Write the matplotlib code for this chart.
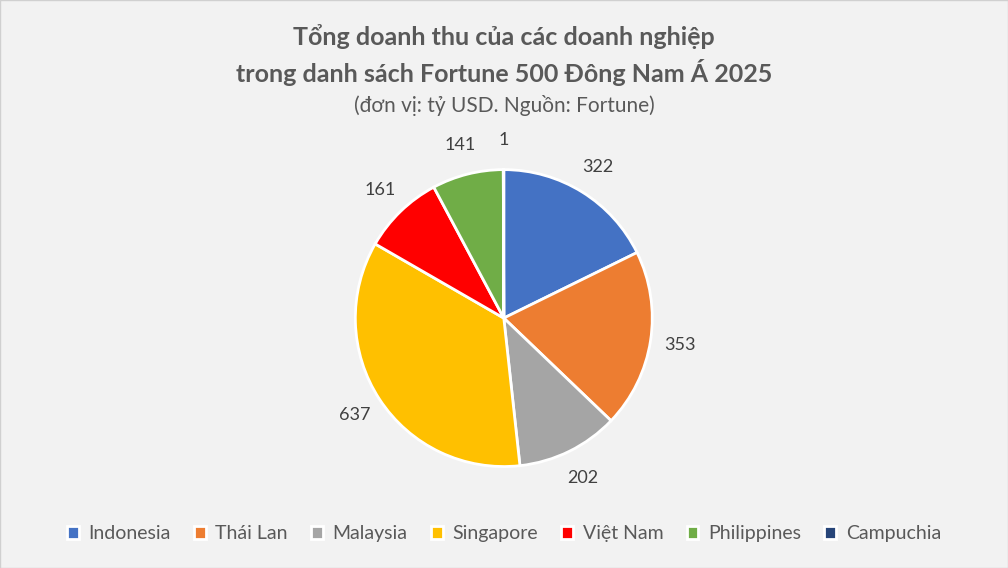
import matplotlib.pyplot as plt
from matplotlib.patches import Rectangle

countries = ['Indonesia', 'Thái Lan', 'Malaysia', 'Singapore', 'Việt Nam', 'Philippines', 'Campuchia']
revenue = [322, 353, 202, 637, 161, 141, 1]
colors = ['#4472C4', '#ED7D31', '#A5A5A5', '#FFC000', '#FF0000', '#70AD47', '#264478']

plt.rcParams['font.family'] = ['Lato', 'DejaVu Sans']

fig = plt.figure(figsize=(10.08, 5.68), dpi=100, facecolor='#f2f2f2')
fig.patches.append(Rectangle((0, 0), 1, 1, transform=fig.transFigure, fill=False,
                             edgecolor='#d0d0d0', lw=1))

ax = fig.add_axes([0.351, 0.176, 0.2976, 0.528])
ax.set_facecolor('#f2f2f2')
wedges, texts = ax.pie(revenue, colors=colors, startangle=90, counterclock=False,
                       labels=[str(v) for v in revenue], labeldistance=1.2,
                       wedgeprops=dict(edgecolor='white', linewidth=2),
                       textprops=dict(fontsize=13, color='#404040', clip_on=False))
for t in texts:
    t.set_ha('center')
ax.set_xlim(-1.01, 1.01)
ax.set_ylim(-1.01, 1.01)
ax.set_aspect('equal')
ax.axis('off')

fig.text(0.5, 0.935, 'Tổng doanh thu của các doanh nghiệp', ha='center', va='center',
         fontsize=18, fontweight='bold', color='#595959')
fig.text(0.5, 0.873, 'trong danh sách Fortune 500 Đông Nam Á 2025', ha='center', va='center',
         fontsize=18, fontweight='bold', color='#595959')
fig.text(0.5, 0.815, '(đơn vị: tỷ USD. Nguồn: Fortune)', ha='center', va='center',
         fontsize=15, color='#595959')

fig.legend(wedges, countries, loc='center', bbox_to_anchor=(0.5, 0.06), ncol=7,
           frameon=False, fontsize=14, handlelength=0.6, handleheight=0.6,
           columnspacing=1.2, handletextpad=0.5, labelcolor='#595959')

fig.savefig('out.png', dpi=100, facecolor=fig.get_facecolor())
